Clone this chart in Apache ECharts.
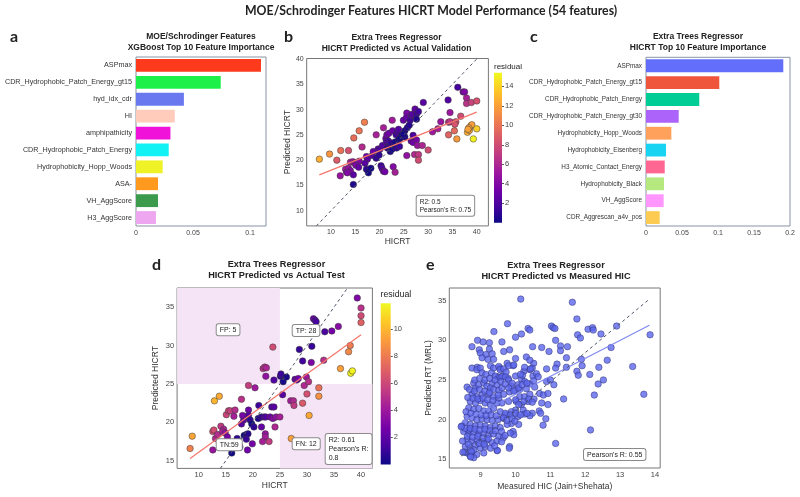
<!DOCTYPE html>
<html><head><meta charset="utf-8">
<script src="https://cdn.jsdelivr.net/npm/echarts@6/dist/echarts.min.js"></script>
<style>html,body{margin:0;padding:0;background:#fff}#c{width:800px;height:497px}</style>
</head><body><div id="c"></div>
<script>
// ---------- DATA ----------
const xgbFeatures = ['ASPmax','CDR_Hydrophobic_Patch_Energy_gt15','hyd_idx_cdr','HI','amphipathicity','CDR_Hydrophobic_Patch_Energy','Hydrophobicity_Hopp_Woods','ASA-','VH_AggScore','H3_AggScore'];
const xgbImportance = [0.1096,0.0743,0.0420,0.0340,0.0302,0.0287,0.0234,0.0193,0.0193,0.0175];
const xgbColors = ['#fd3a1c','#1ef04a','#6a78f0','#ffcbbb','#f012d8','#12f2f4','#eef226','#ff9a1e','#3c9a4c','#eea6f0'];

const etFeatures = ['ASPmax','CDR_Hydrophobic_Patch_Energy_gt15','CDR_Hydrophobic_Patch_Energy','CDR_Hydrophobic_Patch_Energy_gt30','Hydrophobicity_Hopp_Woods','Hydrophobicity_Eisenberg','H3_Atomic_Contact_Energy','Hydrophobicity_Black','VH_AggScore','CDR_Aggrescan_a4v_pos'];
const etImportance = [0.1907,0.1018,0.0740,0.0454,0.0352,0.0278,0.0260,0.0250,0.0245,0.0190];
const etColors = ['#636efa','#ef553b','#00cc96','#ab63fa','#ffa15a','#19d3f3','#ff6692','#b6e880','#ff97ff','#fecb52'];

// panel b: [actual HICRT, predicted HICRT]
const validationPoints = [[7.6,20.2],[9.7,21.2],[11.2,20.0],[12.0,21.9],[13.6,21.9],[14.7,24.4],[15.8,25.8],[16.9,27.5],[11.9,16.9],[13.0,18.2],[13.2,17.6],[13.6,18.4],[14.0,17.9],[13.4,17.5],[14.6,17.1],[14.6,15.2],[14.0,19.6],[14.5,19.7],[14.9,19.5],[15.8,19.8],[15.1,19.0],[15.7,18.6],[16.4,22.6],[17.3,20.7],[17.5,20.2],[17.0,19.4],[17.3,18.2],[17.7,17.5],[18.2,18.4],[18.5,20.9],[19.3,20.4],[18.7,21.7],[19.3,25.0],[19.7,22.2],[20.1,22.2],[20.6,22.9],[19.9,21.0],[20.3,18.9],[20.5,18.4],[20.8,17.8],[21.1,17.7],[20.8,26.4],[21.3,24.3],[21.5,25.0],[21.4,23.6],[21.9,25.3],[21.6,22.4],[22.0,23.1],[21.8,23.8],[22.3,23.4],[22.6,27.9],[22.7,25.8],[22.8,18.7],[23.2,17.6],[22.2,21.7],[22.6,22.2],[23.0,22.9],[23.4,25.0],[23.7,25.6],[23.9,26.1],[23.2,23.6],[23.9,24.0],[24.2,24.3],[24.6,25.0],[23.5,22.4],[24.1,22.7],[24.9,27.9],[25.6,29.3],[25.5,28.4],[26.3,27.9],[26.6,28.8],[25.2,25.8],[25.7,26.4],[26.1,26.9],[25.2,24.6],[24.9,25.1],[25.6,20.9],[26.5,23.8],[26.9,23.5],[27.6,24.0],[26.7,29.1],[27.3,30.1],[27.6,29.1],[28.0,29.6],[27.6,28.1],[26.9,24.9],[27.8,22.9],[28.8,22.9],[27.2,21.1],[28.0,21.1],[28.0,20.0],[29.0,31.4],[30.0,22.0],[30.9,25.6],[32.0,26.2],[32.6,27.6],[34.1,31.9],[34.5,29.4],[34.2,27.5],[34.5,27.6],[34.2,25.0],[35.4,25.8],[35.7,27.6],[35.5,27.1],[36.7,28.7],[35.9,24.2],[36.1,34.4],[37.2,33.5],[37.5,33.5],[37.9,32.3],[37.9,31.2],[38.9,31.4],[40.0,31.7],[38.1,25.5],[38.5,25.9],[38.8,26.8],[39.0,27.0],[38.4,26.4],[38.2,26.1],[39.3,24.2],[40.0,26.2]];
const validationFit = [[7.6,17.1],[40.0,29.5]];
const validationDiag = [[7.0,7.0],[40.1,40.1]];
const validationStats = "R2: 0.5\nPearson's R: 0.75";

// panel d: [actual HICRT, predicted HICRT]
const testPoints = [[8.4,16.6],[8.8,18.2],[12.9,22.8],[13.8,23.4],[12.6,16.4],[12.6,18.8],[12.8,19.0],[13.1,17.9],[13.5,18.4],[14.1,19.5],[14.6,19.1],[14.4,18.8],[15.1,21.0],[15.5,21.5],[15.8,21.5],[14.9,18.6],[15.3,18.1],[16.1,16.0],[16.5,20.8],[16.7,21.6],[17.1,17.9],[17.3,17.5],[17.6,16.8],[17.9,23.0],[17.9,19.8],[18.3,20.3],[18.6,20.7],[18.1,20.9],[18.4,18.3],[18.8,18.4],[19.1,18.5],[18.8,17.8],[19.0,16.4],[19.2,24.8],[19.2,21.6],[19.2,20.9],[19.5,20.3],[19.8,19.8],[19.9,17.2],[20.4,24.5],[20.2,19.4],[21.1,22.2],[21.0,20.5],[21.6,20.7],[22.1,20.7],[22.4,20.7],[21.6,19.4],[22.3,18.5],[22.3,18.1],[21.8,17.5],[23.0,17.5],[21.9,27.0],[22.2,27.2],[22.5,27.1],[22.4,26.0],[23.7,29.8],[23.9,25.5],[23.2,20.7],[23.7,20.5],[23.5,22.0],[23.9,22.0],[24.1,19.4],[24.3,20.7],[25.0,20.7],[25.1,26.0],[25.2,26.3],[25.6,25.3],[26.2,25.9],[25.5,23.6],[27.0,22.8],[27.5,22.8],[27.6,22.2],[27.1,17.9],[27.8,25.6],[28.1,25.5],[28.4,25.7],[28.6,29.5],[29.2,28.0],[29.2,22.5],[29.5,24.8],[29.9,25.9],[30.3,25.3],[30.0,23.7],[30.4,20.9],[30.8,27.8],[30.9,29.9],[31.2,33.5],[31.5,33.3],[31.7,33.1],[32.2,24.5],[32.2,23.4],[33.1,28.1],[33.3,31.8],[34.6,31.9],[35.8,32.5],[36.2,27.0],[37.7,29.2],[38.0,30.0],[38.1,26.4],[38.4,26.7],[39.3,36.2],[40.0,34.9],[40.0,33.9],[40.0,33.0]];
const testFit = [[8.4,15.3],[40.0,31.4]];
const testDiag = [[14.0,14.0],[37.5,37.5]];
const hicrtThreshold = 25;
const quadrantLabels = ['FP: 5','TP: 28','TN:59','FN: 12'];
const testStats = "R2: 0.61\nPearson's R:\n0.8";

// panel e: [measured HIC, predicted RT]
const hicPoints = [[10.15,35.2],[11.63,34.8],[11.76,32.7],[9.77,32.1],[12.9,31.8],[11.03,31.8],[11.08,31.6],[11.13,31.5],[12.08,31.4],[12.21,31.6],[12.23,31.3],[10.36,31.5],[10.41,31.3],[9.38,31.1],[10.17,30.8],[10.0,30.4],[13.86,30.7],[11.78,30.7],[11.86,30.3],[12.45,30.8],[11.15,30.0],[10.49,29.2],[10.75,29.1],[10.96,28.6],[11.29,29.3],[11.29,28.7],[11.49,29.2],[12.74,29.1],[11.46,27.8],[11.89,27.6],[12.63,27.5],[11.19,27.0],[11.15,26.5],[10.89,26.4],[10.52,27.1],[10.41,26.3],[10.5,25.5],[10.6,25.8],[10.65,25.4],[11.46,26.6],[11.76,26.1],[11.8,25.6],[11.91,26.8],[12.39,26.6],[13.36,26.7],[12.13,25.7],[12.52,25.0],[12.37,24.5],[12.26,23.1],[13.68,23.2],[11.38,22.6],[12.15,18.7],[11.15,17.0],[10.89,24.8],[11.0,25.0],[11.1,24.4],[10.55,24.1],[10.69,23.3],[10.8,23.1],[10.93,23.3],[10.53,22.6],[10.75,22.1],[10.93,21.9],[10.68,21.1],[10.72,20.8],[10.87,20.1],[10.79,19.3],[10.48,20.8],[10.41,24.5],
[10.31,23.9],[10.52,24.9],[10.17,25.1],[10.26,24.8],[10.48,26.5],[10.31,27.9],[10.24,26.1],[10.2,25.6],[10.41,27.5],[9.83,28.8],[10.0,27.7],[9.93,26.8],[9.76,27.1],[9.55,26.5],[9.5,25.4],[9.64,25.5],[9.79,25.2],[10.07,24.4],[10.12,23.8],[9.98,23.7],[9.88,24.2],[9.83,23.5],[10.12,22.9],[10.26,22.9],[10.41,23.2],[10.02,22.3],[10.0,21.2],[10.07,20.4],[10.22,21.2],[10.26,20.7],[10.41,20.5],[9.88,21.0],[9.74,20.6],[9.64,20.2],[9.88,19.5],[9.93,18.5],[9.95,18.1],[9.83,16.6],[9.47,16.1],[10.17,21.9],[10.36,22.3],
[8.91,30.0],[9.07,29.8],[9.25,29.7],[8.75,29.2],[9.61,29.8],[8.96,28.8],[8.99,28.4],[9.25,28.9],[9.15,28.2],[9.33,28.3],[9.66,28.6],[9.04,27.8],[9.21,27.6],[9.37,27.6],
[8.9,26.6],[8.75,26.5],[8.89,26.3],[8.99,26.5],[9.28,26.8],[9.37,26.5],[9.52,26.7],[9.56,26.3],[9.04,25.9],[9.15,25.7],[9.31,25.9],[9.66,26.4],[9.73,26.0],[9.8,26.8],[9.95,26.9],[9.42,25.5],[9.54,25.3],[9.61,25.4],[9.71,25.4],
[8.61,24.1],[8.8,24.6],[8.85,24.0],[8.94,24.4],[9.09,24.6],[9.18,24.2],[9.33,24.6],[9.28,24.0],[9.47,24.4],[9.37,23.8],[9.52,23.7],[9.61,24.0],[9.8,25.0],[9.9,24.6],[10.0,25.5],[10.14,25.7],[10.26,26.6],[10.43,26.4],
[9.8,24.0],[9.95,23.6],[10.09,24.0],[10.19,24.4],[10.33,24.6],
[8.75,23.2],[8.89,22.9],[9.04,23.2],[9.23,23.2],[9.37,22.9],[9.52,22.7],[9.66,23.2],
[8.7,22.3],[8.85,22.1],[8.99,22.4],[9.13,22.1],[9.28,21.9],[9.47,22.1],[9.61,22.1],[9.8,22.3],[10.0,22.5],[10.09,21.9],[10.24,22.3],[10.38,22.6],[10.48,22.2],
[8.66,21.5],[8.8,21.3],[8.95,21.4],[9.09,21.1],[9.23,21.1],[9.37,21.4],[9.56,21.0],[9.71,20.8],[9.85,20.6],[10.0,20.8],[10.14,20.6],[10.33,20.8],
[8.61,20.4],[8.75,20.2],[8.89,20.0],[9.04,20.1],[9.18,20.0],[9.33,19.9],[9.5,20.0],[9.66,20.2],
[8.56,19.6],[8.7,19.4],[8.85,19.2],[8.99,19.3],[9.13,19.2],[9.28,19.0],[9.42,19.2],[9.56,19.0],[9.76,19.4],[10.09,19.4],[8.46,19.2],
[8.51,18.5],[8.66,18.3],[8.8,18.4],[8.94,18.2],[9.09,18.3],[9.23,18.1],[9.37,18.2],[9.52,17.9],[9.85,18.3],
[8.61,17.5],[8.75,17.3],[8.89,17.5],[9.04,17.2],[9.18,17.4],[9.33,17.1],[9.47,17.3],
[8.56,16.6],[8.7,16.5],[8.85,16.8],[8.99,16.4],[9.13,16.6],[9.28,16.4],
[8.75,15.9],[8.89,15.6],[8.61,15.8],[8.54,15.9],[9.09,15.8],[9.48,16.1],[9.82,16.4],[8.7,15.4],[8.8,15.2],[8.48,17.3],[8.66,18.7],
[8.58,21.0],[8.72,20.8],[8.87,20.7],[9.01,20.6],[9.16,20.5],[9.3,20.6],[9.45,20.5],
[8.63,22.8],[8.78,22.7],[8.92,22.6],[9.07,22.7],[9.2,22.5],[9.35,22.4],[9.5,23.1],
[8.55,18.9],[8.7,18.9],[8.84,18.8],[8.98,18.7],[9.12,18.8],[9.27,18.6],[9.42,18.6],[9.6,18.5],
[8.62,17.9],[8.77,17.8],[8.92,17.9],[9.07,17.7],[9.22,17.6],[9.65,17.7],
[8.68,23.8],[8.82,23.6],[8.97,23.8],[9.12,23.6],[9.25,23.4],
[8.83,25.0],[8.97,25.2],[9.12,25.0],[9.26,25.2],[9.41,25.0],[9.58,24.8],[9.7,24.5],
[8.65,16.9],[8.8,16.2],[8.95,17.0],[9.1,16.9],[9.4,16.7],[9.6,17.2],[9.7,18.0],[9.75,19.9],[9.9,20.1],[9.98,19.8],
[8.44,19.1],[8.49,15.9],[8.73,16.0],[8.71,15.3]];
const hicFit = [[8.46,19.7],[13.84,31.9]];
const hicDiag = [[8.44,15.4],[13.84,35.2]];
const hicStats = "Pearson's R: 0.55";

const plasma = ['#0d0887','#46039f','#7201a8','#9c179e','#bd3786','#d8576b','#ed7953','#fb9f3a','#fdca26','#f0f921'];

// ---------- CHART ----------
const FONT = 'Liberation Sans';
const chart = echarts.init(document.getElementById('c'), null, {renderer: 'canvas'});

function every(step) {
  return function (v) {
    const r = v / step;
    return Math.abs(r - Math.round(r)) < 1e-6 ? String(Math.round(v * 1000) / 1000) : '';
  };
}
function withRes(pts) { return pts.map(p => [p[0], p[1], Math.abs(p[1] - p[0])]); }
function barData(vals, cols) { return vals.map((v, i) => ({value: v, itemStyle: {color: cols[i]}})); }

const noLine = {show: false};
function valAxis(grid, min, max, interval, fmt, fs, margin, extra, hideMin) {
  return Object.assign({
    type: 'value', gridIndex: grid, min: min, max: max, interval: interval,
    axisLine: noLine, axisTick: noLine, splitLine: noLine,
    axisLabel: {fontSize: fs, color: '#444', margin: margin, formatter: fmt, fontFamily: FONT,
                showMinLabel: !hideMin}
  }, extra || {});
}
function catAxis(grid, data, fs) {
  return {
    type: 'category', gridIndex: grid, data: data, inverse: true,
    axisLine: noLine, axisTick: noLine, splitLine: noLine,
    axisLabel: {fontSize: fs, color: '#333', margin: 4, fontFamily: FONT}
  };
}
function cbAxes(grid, max) {
  return {
    x: {type: 'category', gridIndex: grid, data: [''], show: false},
    y: {type: 'value', gridIndex: grid, min: 0, max: max, interval: 2, position: 'right',
        axisLine: noLine, splitLine: noLine,
        axisTick: {show: true, length: 2, lineStyle: {color: '#555'}},
        axisLabel: {fontSize: 7.5, color: '#444', margin: 3, showMinLabel: false, showMaxLabel: false, fontFamily: FONT}}
  };
}
const cbB = cbAxes(2, 15.4), cbD = cbAxes(5, 11.9);
const axisNameStyle = {fontSize: 8.5, color: '#333', fontFamily: FONT};

const grids = [
  {left: 136, top: 57, width: 130, height: 169, show: true, borderColor: '#8793a3', borderWidth: 1},
  {left: 306.7, top: 58.5, width: 181.7, height: 167.4, show: true, borderColor: '#777', borderWidth: 1},
  {left: 494, top: 72.7, width: 8, height: 150},
  {left: 646, top: 57.3, width: 144, height: 168.7, show: true, borderColor: '#8793a3', borderWidth: 1},
  {left: 177.1, top: 288, width: 195.3, height: 180.4, show: true, borderColor: '#777', borderWidth: 1},
  {left: 380.7, top: 303.3, width: 10, height: 161.1},
  {left: 449.3, top: 288, width: 210.9, height: 180, show: true, borderColor: '#777', borderWidth: 1}
];

const xAxes = [
  valAxis(0, 0, 0.114, 0.05, null, 7, 4, {axisLabel: {fontSize: 7, color: '#444', margin: 4, showMaxLabel: false, fontFamily: FONT}}),
  valAxis(1, 5, 42.4, 1, every(5), 7, 3, {name: 'HICRT', nameLocation: 'middle', nameGap: 10, nameTextStyle: axisNameStyle}, true),
  cbB.x,
  valAxis(3, 0, 0.2, 0.05, null, 7, 4),
  valAxis(4, 6, 42.1, 1, every(5), 7.5, 3, {name: 'HICRT', nameLocation: 'middle', nameGap: 13, nameTextStyle: axisNameStyle}),
  cbD.x,
  valAxis(6, 8.1, 14.15, 0.1, every(1), 7.5, 3, {name: 'Measured HIC (Jain+Shehata)', nameLocation: 'middle', nameGap: 14, nameTextStyle: axisNameStyle})
];
const yAxes = [
  catAxis(0, xgbFeatures, 7.2),
  valAxis(1, 7, 40.1, 1, every(5), 7, 3, {name: 'Predicted HICRT', nameLocation: 'middle', nameGap: 14, nameTextStyle: axisNameStyle}),
  cbB.y,
  catAxis(3, etFeatures, 6.4),
  valAxis(4, 14, 37.5, 1, every(5), 7.5, 3, {name: 'Predicted HICRT', nameLocation: 'middle', nameGap: 17, nameTextStyle: axisNameStyle}),
  cbD.y,
  valAxis(6, 13.9, 36.6, 0.1, every(5), 7.5, 3, {name: 'Predicted RT (MRL)', nameLocation: 'middle', nameGap: 16, nameTextStyle: axisNameStyle})
];

const cbGradient = {type: 'linear', x: 0, y: 1, x2: 0, y2: 0,
  colorStops: plasma.map((c, i) => ({offset: i / (plasma.length - 1), color: c}))};
const pointStyle = {borderColor: '#3a3a3a', borderWidth: 0.5, opacity: 1};
const diagStyle = {color: '#4b5266', width: 1, type: [3, 3]};
const fitRed = {color: '#f4766a', width: 1.2};

const series = [
  {type: 'bar', xAxisIndex: 0, yAxisIndex: 0, data: barData(xgbImportance, xgbColors), barCategoryGap: '24%'},
  // b
  {type: 'scatter', xAxisIndex: 1, yAxisIndex: 1, data: withRes(validationPoints), symbolSize: 6.5, itemStyle: pointStyle},
  {type: 'line', xAxisIndex: 1, yAxisIndex: 1, data: validationFit, showSymbol: false, lineStyle: fitRed},
  {type: 'line', xAxisIndex: 1, yAxisIndex: 1, data: validationDiag, showSymbol: false, lineStyle: diagStyle},
  {type: 'bar', xAxisIndex: 2, yAxisIndex: 2, data: [15.4], barWidth: '100%', itemStyle: {color: cbGradient}},
  // c
  {type: 'bar', xAxisIndex: 3, yAxisIndex: 3, data: barData(etImportance, etColors), barCategoryGap: '24%'},
  // d
  {type: 'scatter', xAxisIndex: 4, yAxisIndex: 4, data: withRes(testPoints), symbolSize: 6.5, itemStyle: pointStyle,
   markArea: {silent: true, itemStyle: {color: '#f5e4f6'},
     data: [[{coord: [6, hicrtThreshold]}, {coord: [hicrtThreshold, 37.5]}],
            [{coord: [hicrtThreshold, 14]}, {coord: [42.1, hicrtThreshold]}]]}},
  {type: 'line', xAxisIndex: 4, yAxisIndex: 4, data: testFit, showSymbol: false, lineStyle: fitRed},
  {type: 'line', xAxisIndex: 4, yAxisIndex: 4, data: testDiag, showSymbol: false, lineStyle: diagStyle},
  {type: 'bar', xAxisIndex: 5, yAxisIndex: 5, data: [11.9], barWidth: '100%', itemStyle: {color: cbGradient}},
  // e
  {type: 'line', xAxisIndex: 6, yAxisIndex: 6, data: hicFit, showSymbol: false, lineStyle: {color: '#7f88f2', width: 1.1}},
  {type: 'scatter', xAxisIndex: 6, yAxisIndex: 6, data: hicPoints, symbolSize: 6.5,
   itemStyle: {color: '#5d66ec', borderColor: '#2c2f70', borderWidth: 0.6}},
  {type: 'line', xAxisIndex: 6, yAxisIndex: 6, data: hicDiag, showSymbol: false, lineStyle: diagStyle}
];

function txt(x, y, text, font, align, extra) {
  return {type: 'text', x: x, y: y, silent: true, z: 100,
    style: Object.assign({text: text, font: font, fill: '#222', align: align || 'center', verticalAlign: 'middle'}, extra || {})};
}
function box(x, y, text, fs, lh) {
  return {type: 'text', x: x, y: y, silent: true, z: 100,
    style: {text: text, font: fs + 'px ' + FONT, fill: '#222', align: 'left', verticalAlign: 'top',
      lineHeight: lh, backgroundColor: '#fff', borderColor: '#8a8a8a', borderWidth: 1, borderRadius: 2, padding: [2, 3, 1, 3]}};
}
const BT = 'bold 8.5px ' + FONT, BT2 = 'bold 9.2px ' + FONT, LET = 'bold 16px Lato';
const graphics = [
  txt(245, 11, 'MOE/Schrodinger Features HICRT Model Performance (54 features)', 'bold 12.3px Lato', 'left'),
  txt(10, 37, 'a', LET, 'left'), txt(284, 37, 'b', LET, 'left'), txt(530, 37, 'c', LET, 'left'),
  txt(152, 265, 'd', LET, 'left'), txt(426, 265, 'e', LET, 'left'),
  txt(201, 37, 'MOE/Schrodinger Features', BT), txt(201, 48, 'XGBoost Top 10 Feature Importance', BT),
  txt(396.5, 38, 'Extra Trees Regressor', BT), txt(396.5, 49, 'HICRT Predicted vs Actual Validation', BT),
  txt(698, 37, 'Extra Trees Regressor', BT), txt(698, 48, 'HICRT Top 10 Feature Importance', BT),
  txt(276.5, 264.5, 'Extra Trees Regressor', BT2), txt(276.5, 275.5, 'HICRT Predicted vs Actual Test', BT2),
  txt(556, 265, 'Extra Trees Regressor', BT2), txt(556, 276.5, 'HICRT Predicted vs Measured HIC', BT2),
  txt(494, 66.5, 'residual', '8px ' + FONT, 'left'),
  txt(380.5, 295, 'residual', '8.8px ' + FONT, 'left'),
  box(416.7, 195.7, validationStats, 6.5, 8.5),
  box(216.7, 324.3, quadrantLabels[0], 7, 8), box(292.7, 325, quadrantLabels[1], 7, 8),
  box(216.7, 439.3, quadrantLabels[2], 7, 8), box(292.7, 438.3, quadrantLabels[3], 7, 8),
  box(325.7, 434, testStats, 7, 9),
  box(584, 449, hicStats, 7, 8)
];

chart.setOption({
  animation: false,
  textStyle: {fontFamily: FONT},
  grid: grids, xAxis: xAxes, yAxis: yAxes, series: series,
  visualMap: [
    {type: 'continuous', show: false, seriesIndex: 1, dimension: 2, min: 0, max: 15.4, inRange: {color: plasma}},
    {type: 'continuous', show: false, seriesIndex: 6, dimension: 2, min: 0, max: 11.9, inRange: {color: plasma}}
  ],
  graphic: graphics
});
</script></body></html>
